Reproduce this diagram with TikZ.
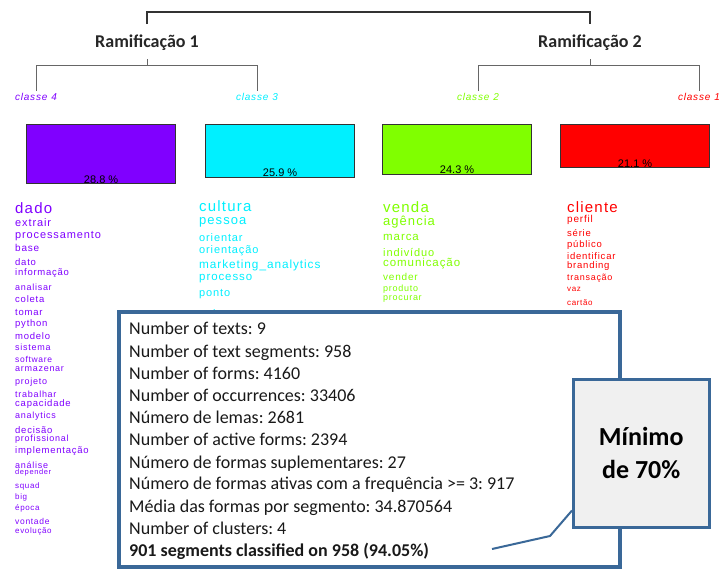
\documentclass[tikz,border=0pt]{standalone}
\usepackage{fontspec}
\setmainfont{Liberation Sans}
\newfontfamily\wordfont[LetterSpace=8]{Liberation Sans}
\newfontfamily\infofont{Carlito}
\frenchspacing

\definecolor{clsD}{RGB}{128,0,255}
\definecolor{clsC}{RGB}{0,240,255}
\definecolor{clsB}{RGB}{128,255,0}
\definecolor{clsA}{RGB}{255,0,0}
\definecolor{infoblue}{RGB}{58,104,152}

\begin{document}
\begin{tikzpicture}[x=1pt,y=-1pt,
  tree/.style={draw=black!80, line width=1.2pt},
  branch/.style={draw=black!60, line width=1pt},
  head/.style={font=\infofont\bfseries\fontsize{18}{18}\selectfont, text=black!85, inner sep=0pt},
  clslabel/.style={font=\wordfont\itshape\fontsize{10}{10}\selectfont, inner sep=0pt},
  classbox/.style={draw=black!80, line width=1.2pt, inner sep=0pt, anchor=north west, minimum width=149pt},
  pct/.style={font=\fontsize{11}{11}\selectfont, inner sep=0pt, text=black},
  word/.style={anchor=west, inner sep=0pt},
  infobox/.style={draw=infoblue, line width=4pt, fill=white, anchor=north west,
    minimum width=501pt, minimum height=255pt, inner sep=0pt},
  infoline/.style={font=\infofont\fontsize{18}{22}\selectfont, anchor=base west, inner sep=0pt, text=black!90},
  note/.style={draw=infoblue, line width=2.5pt, fill=gray!12, align=center, anchor=north west,
    minimum width=136pt, minimum height=148pt, inner sep=0pt,
    font=\infofont\bfseries\fontsize{26}{33}\selectfont},
  pointer/.style={draw=infoblue, line width=2pt}
]
\useasboundingbox (0,0) rectangle (720,568);
\fill[white] (0,0) rectangle (720,568);

% dendrogram heads
\node[head] (r1) at (147,43) {Ramificação 1};
\node[head] (r2) at (590,43) {Ramificação 2};
\draw[tree] (r1.north |- 0,24) -- (r1.north |- 0,12) -- (r2.north |- 0,12) -- (r2.north |- 0,24);

% class labels
\node[clslabel, text=clsD] (k4) at (36,97) {classe\hspace{4pt}4};
\node[clslabel, text=clsC] (k3) at (257,97) {classe\hspace{4pt}3};
\node[clslabel, text=clsB] (k2) at (478,97) {classe\hspace{4pt}2};
\node[clslabel, text=clsA] (k1) at (699,97) {classe\hspace{4pt}1};

\draw[branch] (r1.south |- 0,59) -- (r1.south |- 0,65);
\draw[branch] (k4.north |- 0,91) -- (k4.north |- 0,65) -- (k3.north |- 0,65) -- (k3.north |- 0,91);
\draw[branch] (r2.south |- 0,59) -- (r2.south |- 0,65);
\draw[branch] (k2.north |- 0,91) -- (k2.north |- 0,65) -- (k1.north |- 0,65) -- (k1.north |- 0,91);

% class size bars
\node[classbox, fill=clsD, minimum height=59pt] (b4) at (26,124) {};
\node[classbox, fill=clsC, minimum height=53pt] (b3) at (205,124) {};
\node[classbox, fill=clsB, minimum height=50pt] (b2) at (382,124) {};
\node[classbox, fill=clsA, minimum height=43pt] (b1) at (560,124) {};
\node[pct] (p4) at ([yshift=4.5pt]b4.south) {28.8 \%};
\node[pct] (p3) at ([yshift=5pt]b3.south) {25.9 \%};
\node[pct] (p2) at ([yshift=5.5pt]b2.south) {24.3 \%};
\node[pct] (p1) at ([yshift=5pt]b1.south) {21.1 \%};

% vocabulary of each class
\foreach \s/\y/\t [count=\i] in {15/208/dado, 11/223/extrair, 11/236/processamento, 10/248/base,
  9.5/262/dato, 9.5/273/informação, 9/287/analisar, 9.5/299/coleta, 9.5/312/tomar, 9.5/324/python,
  9.5/336/modelo, 9/347/sistema, 8.5/359/software, 9/369/armazenar, 9/382/projeto, 9/394/trabalhar,
  9.5/404/capacidade, 9/416/analytics, 9.5/430/decisão, 9/439/profissional, 9.5/451/implementação,
  9/465/análise, 7.5/473/depender, 8/486/squad, 8/497/big, 8/508/época, 8.5/521/vontade, 8/531/evolução}
  \node[word, text=clsD, font=\wordfont\fontsize{\s}{\s}\selectfont] (wd\i) at (15,\y) {\t};

\foreach \s/\y/\t [count=\i] in {15/206/cultura, 13/222/pessoa, 11/238/orientar, 11/251/orientação,
  11.8/265/marketing\_analytics, 11.5/279/processo, 11/294/ponto, 11/315/anjos}
  \node[word, text=clsC, font=\wordfont\fontsize{\s}{\s}\selectfont] (wc\i) at (199,\y) {\t};

\foreach \s/\y/\t [count=\i] in {15/207/venda, 13/222/agência, 11.5/237/marca, 11/252/indivíduo,
  11.5/264/comunicação, 10/277/vender, 9/289/produto, 9/299/procurar}
  \node[word, text=clsB, font=\wordfont\fontsize{\s}{\s}\selectfont] (wb\i) at (383,\y) {\t};

\foreach \s/\y/\t [count=\i] in {15/207/cliente, 10/220/perfil, 9.5/233/série, 9.5/245/público,
  9.5/256/identificar, 9.5/266/branding, 9/278/transação, 8/289/vaz, 8/303/cartão}
  \node[word, text=clsA, font=\wordfont\fontsize{\s}{\s}\selectfont] (wa\i) at (567,\y) {\t};

% corpus statistics panel
\node[infobox] (info) at (117,310) {};
\foreach \y/\t [count=\i] in {334/{Number of texts: 9}, 357/{Number of text segments: 958},
  379/{Number of forms: 4160}, 401/{Number of occurrences: 33406}, 423/{Número de lemas: 2681},
  445/{Number of active forms: 2394}, 468/{Número de formas suplementares: 27},
  489/{Número de formas ativas com a frequência >= 3: 917},
  512/{Média das formas por segmento: 34.870564}, 534/{Number of clusters: 4}}
  \node[infoline] (st\i) at (129,\y) {\t};
\node[infoline, font=\infofont\bfseries\fontsize{18}{22}\selectfont] (st11) at (129,556)
  {901 segments classified on 958 (94.05\%)};

% callout
\node[note] (min) at (572,378) {Mínimo\\de 70\%};
\coordinate (tail) at (492,549);
\coordinate (bend) at (550,536);
\draw[pointer] (tail) -- (bend) -- ([yshift=18pt]min.south west);
\end{tikzpicture}
\end{document}
